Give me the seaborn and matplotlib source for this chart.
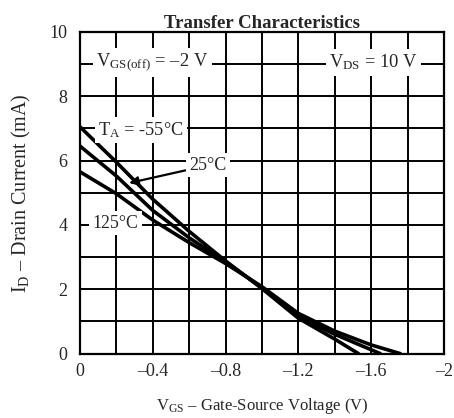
import pandas as pd
import matplotlib
matplotlib.use('Agg')
import matplotlib.pyplot as plt
import seaborn as sns
import numpy as np

# (V_GS in V, I_D in mA)
vgs_m55 = [0, -0.2, -0.4, -0.6, -0.8, -1.0, -1.2, -1.4, -1.53]
id_m55 = [7.05, 5.95, 4.8, 3.8, 2.88, 2.02, 1.1, 0.45, 0]
vgs_25 = [0, -0.2, -0.4, -0.6, -0.8, -1.0, -1.2, -1.4, -1.65]
id_25 = [6.45, 5.52, 4.45, 3.6, 2.85, 2.05, 1.15, 0.6, 0]
vgs_125 = [0, -0.2, -0.4, -0.6, -0.8, -1.0, -1.2, -1.4, -1.6, -1.76]
id_125 = [5.65, 4.97, 4.15, 3.45, 2.8, 2.08, 1.25, 0.7, 0.27, 0]

x_ticks = [0, -0.4, -0.8, -1.2, -1.6, -2]
x_labels = ['0', '\u20130.4', '\u20130.8', '\u20131.2', '\u20131.6', '\u20132']
y_ticks = [0, 2, 4, 6, 8, 10]

df = pd.concat([
    pd.DataFrame({'vgs': vgs_m55, 'id': id_m55, 'temp': '-55'}),
    pd.DataFrame({'vgs': vgs_25, 'id': id_25, 'temp': '25'}),
    pd.DataFrame({'vgs': vgs_125, 'id': id_125, 'temp': '125'}),
])

sns.set_style('white')
plt.rcParams['font.family'] = ['Liberation Serif', 'DejaVu Serif']
plt.rcParams['mathtext.fontset'] = 'custom'
plt.rcParams['mathtext.rm'] = 'Liberation Serif'
plt.rcParams['mathtext.it'] = 'Liberation Serif:italic'

fig = plt.figure(figsize=(4.54, 4.18), dpi=100)
ax = fig.add_axes([0.176, 0.154, 0.802, 0.770])

sns.lineplot(data=df, x='vgs', y='id', hue='temp', palette=['black'] * 3,
             linewidth=2.6, legend=False, sort=False, estimator=None, ax=ax, zorder=3)

ax.set_xlim(0, -2)
ax.set_ylim(0, 10)
ax.set_xticks(x_ticks)
ax.set_xticklabels(x_labels)
ax.set_xticks(np.arange(-0.2, -2.0, -0.4), minor=True)
ax.set_yticks(y_ticks)
ax.set_yticks([1, 3, 5, 7, 9], minor=True)
ax.grid(True, which='both', color='black', linewidth=1.4)
ax.tick_params(which='both', length=0, labelsize=13)
ax.tick_params(axis='x', pad=7)
ax.tick_params(axis='y', pad=9)
for s in ax.spines.values():
    s.set_color('black')
    s.set_linewidth(1.6)

ax.set_xlabel('V$_{\\mathrm{GS}}$ \u2013 Gate-Source Voltage (V)', fontsize=12, labelpad=11)
ax.set_ylabel('I$_{\\mathrm{D}}$ \u2013 Drain Current (mA)', fontsize=14.5, labelpad=12)
ax.set_title('Transfer Characteristics', fontsize=13.5, fontweight='bold', pad=3)

box = dict(facecolor='white', edgecolor='none', pad=2.5)
ax.text(-0.09, 9.05, 'V$_{\\mathrm{GS(off)}}$ = \u20132 V', fontsize=13.3, va='center', bbox=box, zorder=4)
ax.text(-1.37, 9.05, 'V$_{\\mathrm{DS}}$ = 10 V', fontsize=13.3, va='center', bbox=box, zorder=4)
ax.text(-0.1, 6.95, 'T$_{\\mathrm{A}}$ = -55\u00b0C', fontsize=13.2, va='center', bbox=box, zorder=4)
ax.text(-0.07, 4.05, '125\u00b0C', fontsize=12.8, va='center', bbox=box, zorder=4)
ax.annotate('25\u00b0C', xy=(-0.27, 5.3), xytext=(-0.6, 5.85), fontsize=13, va='center',
            bbox=box, zorder=4,
            arrowprops=dict(arrowstyle='-|>', color='black', lw=1.6, shrinkA=0, shrinkB=0))

fig.savefig('out.png', dpi=100)
